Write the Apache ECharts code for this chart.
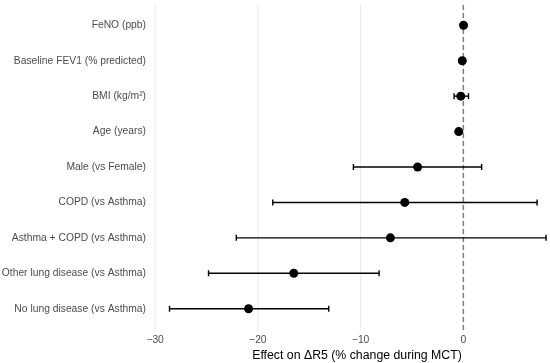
<!DOCTYPE html>
<html>
<head>
<meta charset="utf-8">
<script src="https://cdn.jsdelivr.net/npm/echarts@6/dist/echarts.min.js"></script>
<style>html,body{margin:0;padding:0;background:#fff}#c{width:550px;height:363px}</style>
</head>
<body>
<div id="c"></div>
<script>
// Categories from bottom to top
var categories = ["No lung disease (vs Asthma)", "Other lung disease (vs Asthma)", "Asthma + COPD (vs Asthma)", "COPD (vs Asthma)", "Male (vs Female)", "Age (years)", "BMI (kg/m²)", "Baseline FEV1 (% predicted)", "FeNO (ppb)"];
var estimates = [-20.9, -16.5, -7.1, -5.7, -4.45, -0.45, -0.25, -0.1, 0.02];
var lower = [-28.6, -24.8, -22.1, -18.55, -10.7, -0.6, -0.9, -0.15, -0.05];
var upper = [-13.1, -8.2, 8.05, 7.18, 1.78, -0.3, 0.5, -0.05, 0.09];
var xTicks = [-30, -20, -10, 0];

var chart = echarts.init(document.getElementById('c'), null, {renderer: 'canvas'});
var pts = estimates.map(function (v, i) { return [v, i + 1]; });
var bars = categories.map(function (c, i) { return [lower[i], upper[i], i + 1]; });
var font = 'Liberation Sans, Arial, sans-serif';

chart.setOption({
  animation: false,
  grid: {left: 151, width: 412, top: 4, bottom: 33, containLabel: false, outerBoundsMode: 'none'},
  xAxis: {
    type: 'value', min: -30.4, max: 9.7,
    axisLine: {show: false}, axisTick: {show: false},
    axisLabel: {
      customValues: xTicks, margin: 5, fontSize: 10.3, color: '#4d4d4d', fontFamily: font,
      formatter: function (v) { return String(v).replace('-', '\u2212'); }
    },
    splitLine: {show: false},
    name: 'Effect on \u0394R5 (% change during MCT)', nameLocation: 'middle', nameGap: 19,
    nameTextStyle: {fontSize: 12.3, color: '#000', fontFamily: font}
  },
  yAxis: {
    type: 'value', min: 0.4, max: 9.6,
    axisLine: {show: false}, axisTick: {show: false}, splitLine: {show: false},
    axisLabel: {
      customValues: [1, 2, 3, 4, 5, 6, 7, 8, 9], margin: 5, fontSize: 10.3, color: '#4d4d4d', fontFamily: font,
      formatter: function (v) { return categories[Math.round(v) - 1]; }
    }
  },
  series: [
    {
      type: 'custom', silent: true, z: 1,
      renderItem: function (params, api) {
        var children = [];
        xTicks.forEach(function (t) {
          var p1 = api.coord([t, 0.4]), p2 = api.coord([t, 9.6]);
          children.push({type: 'line', shape: {x1: p1[0], y1: p1[1], x2: p2[0], y2: p2[1]}, style: {stroke: '#ebebeb', lineWidth: 1}});
        });
        return {type: 'group', children: children};
      },
      data: [[0, 0]]
    },
    {
      type: 'custom', silent: true, z: 2,
      renderItem: function (params, api) {
        var p1 = api.coord([0, 0.4]), p2 = api.coord([0, 9.6]);
        return {type: 'line', shape: {x1: p1[0], y1: p1[1], x2: p2[0], y2: p2[1]}, style: {stroke: '#7f7f7f', lineWidth: 1.5, lineDash: [5, 3]}};
      },
      data: [[0, 0]]
    },
    {
      type: 'custom', silent: true, z: 3,
      encode: {x: [0, 1], y: 2},
      renderItem: function (params, api) {
        var a = api.coord([api.value(0), api.value(2)]);
        var b = api.coord([api.value(1), api.value(2)]);
        var h = 3;
        var st = {stroke: '#000', lineWidth: 1.4};
        return {type: 'group', children: [
          {type: 'line', shape: {x1: a[0], y1: a[1], x2: b[0], y2: b[1]}, style: st},
          {type: 'line', shape: {x1: a[0], y1: a[1] - h, x2: a[0], y2: a[1] + h}, style: st},
          {type: 'line', shape: {x1: b[0], y1: b[1] - h, x2: b[0], y2: b[1] + h}, style: st}
        ]};
      },
      data: bars
    },
    {
      type: 'scatter', z: 4, symbol: 'circle', symbolSize: 9,
      itemStyle: {color: '#000', opacity: 1},
      data: pts
    }
  ]
});
</script>
</body>
</html>
